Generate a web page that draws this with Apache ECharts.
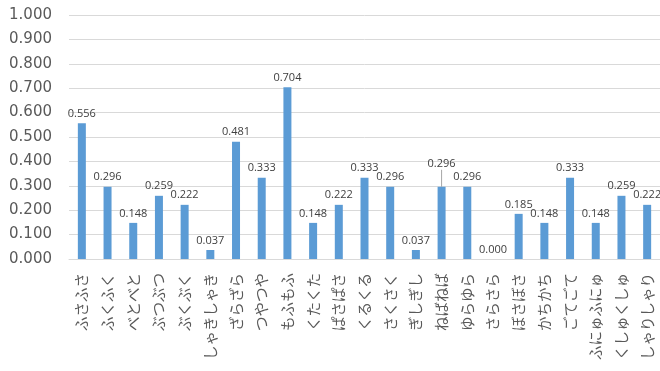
<!DOCTYPE html>
<html>
<head>
<meta charset="utf-8">
<script src="https://cdn.jsdelivr.net/npm/echarts@6/dist/echarts.min.js"></script>
<style>
  html, body { margin: 0; padding: 0; background: #fff; }
  #chart { width: 660px; height: 371px; }
</style>
</head>
<body>
<div id="chart"></div>
<script>
// Onomatopoeia terms and their ratio scores
const categories = [
  'ふさふさ', 'ふくふく', 'べとべと', 'ぶつぶつ', 'ぶくぶく', 'しゃきしゃき',
  'ざらざら', 'つやつや', 'もふもふ', 'くたくた', 'ぱさぱさ', 'くるくる',
  'さくさく', 'ぎしぎし', 'ねばねば', 'ゆらゆら', 'さらさら', 'ぼさぼさ',
  'かちかち', 'ごてごて', 'ふにゅふにゅ', 'くしゅくしゅ', 'しゃりしゃり'
];
const values = [
  0.556, 0.296, 0.148, 0.259, 0.222, 0.037,
  0.481, 0.333, 0.704, 0.148, 0.222, 0.333,
  0.296, 0.037, 0.296, 0.296, 0.000, 0.185,
  0.148, 0.333, 0.148, 0.259, 0.222
];
// Index of the label that is lifted and tied back to its bar with a leader line
const liftedLabel = 14;

const barData = values.map((v, i) => i === liftedLabel
  ? { value: v, labelLine: { show: true, lineStyle: { color: '#a6a6a6', width: 1 } } }
  : { value: v });

const chart = echarts.init(document.getElementById('chart'));
chart.setOption({
  animation: false,
  grid: { left: 69, right: -3, top: 15, bottom: 112, containLabel: false },
  xAxis: {
    type: 'category',
    data: categories,
    axisLine: { show: true, lineStyle: { color: '#d9d9d9', width: 1 } },
    axisTick: { show: false },
    axisLabel: {
      rotate: 90,
      interval: 0,
      margin: 14,
      color: '#595959',
      fontSize: 14.5,
      fontFamily: '"Noto Sans CJK JP", sans-serif'
    }
  },
  yAxis: {
    type: 'value',
    min: 0,
    max: 1,
    interval: 0.1,
    axisLine: { show: false },
    axisTick: { show: false },
    splitLine: { lineStyle: { color: '#d9d9d9', width: 1 } },
    axisLabel: {
      margin: 17,
      color: '#595959',
      fontSize: 15,
      fontFamily: '"DejaVu Sans", sans-serif',
      formatter: v => v.toFixed(3)
    }
  },
  series: [{
    type: 'bar',
    data: barData,
    barWidth: 8,
    itemStyle: { color: '#5b9bd5' },
    label: {
      show: true,
      position: 'top',
      distance: 4,
      color: '#404040',
      fontSize: 11,
      fontFamily: '"Open Sans", sans-serif',
      formatter: p => Number(p.value).toFixed(3)
    },
    labelLine: { show: false },
    labelLayout: params => params.dataIndex === liftedLabel ? { dy: -13 } : {}
  }]
});
</script>
</body>
</html>
